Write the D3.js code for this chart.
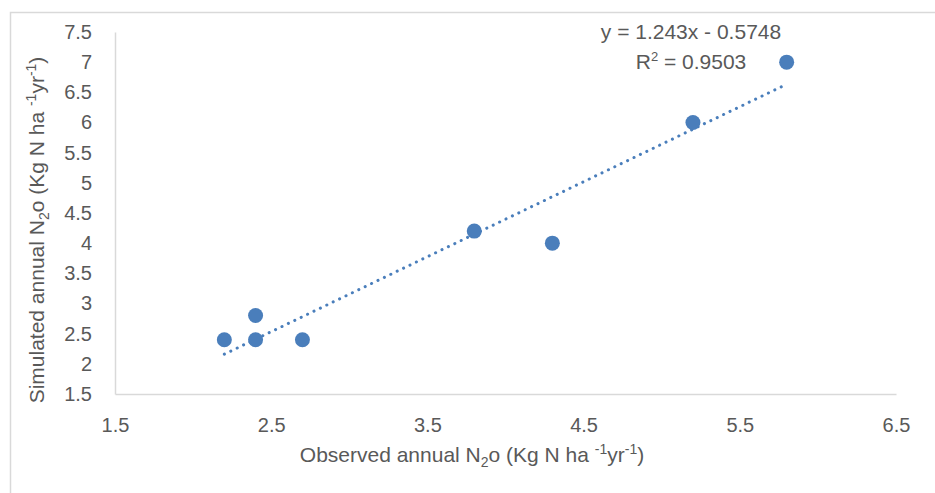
<!DOCTYPE html>
<html>
<head>
<meta charset="utf-8">
<script src="https://cdn.jsdelivr.net/npm/d3@7"></script>
<style>
  body { margin: 0; background: #fff; }
  text { font-family: "Liberation Sans", Arial, sans-serif; fill: #595959; }
</style>
</head>
<body>
<div id="chart"></div>
<script>
const observed = [2.2, 2.4, 2.4, 2.7, 3.8, 4.3, 5.2, 5.8];
const simulated = [2.4, 2.8, 2.4, 2.4, 4.2, 4.0, 6.0, 7.0];
const xTicks = [1.5, 2.5, 3.5, 4.5, 5.5, 6.5];
const yTicks = [1.5, 2, 2.5, 3, 3.5, 4, 4.5, 5, 5.5, 6, 6.5, 7, 7.5];
const slope = 1.243;
const intercept = -0.5748;
const rSquared = 0.9503;

const width = 935;
const height = 493;
const margin = { top: 32, right: 39, bottom: 99, left: 115 };

const x = d3.scaleLinear().domain([1.5, 6.5]).range([margin.left, width - margin.right]);
const y = d3.scaleLinear().domain([1.5, 7.5]).range([height - margin.bottom, margin.top]);

const svg = d3.select("#chart").append("svg").attr("width", width).attr("height", height);

// chart frame, runs off the picture on the right and bottom
svg.append("rect")
  .attr("x", 10.5).attr("y", 12.5)
  .attr("width", 1000).attr("height", 1000)
  .attr("fill", "#fff").attr("stroke", "#d9d9d9").attr("stroke-width", 1.5);

const xAxisG = svg.append("g")
  .attr("transform", `translate(0,${height - margin.bottom})`)
  .call(d3.axisBottom(x).tickValues(xTicks).tickFormat(d3.format("")).tickSize(0).tickPadding(24));

const yAxisG = svg.append("g")
  .attr("transform", `translate(${margin.left},0)`)
  .call(d3.axisLeft(y).tickValues(yTicks).tickFormat(d3.format("")).tickSize(0).tickPadding(23));

[xAxisG, yAxisG].forEach((g) => {
  g.select(".domain").attr("stroke", "#d9d9d9").attr("stroke-width", 1.5);
  g.selectAll("text").attr("fill", "#595959").style("font-size", "20px")
    .style("font-family", "'Liberation Sans', Arial, sans-serif");
});

// trendline
const xExtent = d3.extent(observed);
svg.append("line")
  .attr("x1", x(xExtent[0])).attr("y1", y(slope * xExtent[0] + intercept))
  .attr("x2", x(xExtent[1])).attr("y2", y(slope * xExtent[1] + intercept))
  .attr("stroke", "#4a7ebb").attr("stroke-width", 3)
  .attr("stroke-linecap", "round").attr("stroke-dasharray", "0.1 7");

svg.append("g")
  .selectAll("circle")
  .data(observed)
  .join("circle")
  .attr("cx", (d) => x(d))
  .attr("cy", (d, i) => y(simulated[i]))
  .attr("r", 7.5)
  .attr("fill", "#4a7ebb");

// equation label
const eq = svg.append("g").style("font-size", "21px");
eq.append("text").attr("x", 691).attr("y", 39).attr("text-anchor", "middle")
  .text(`y = ${slope}x - ${Math.abs(intercept)}`);
const r2 = eq.append("text").attr("x", 691).attr("y", 69).attr("text-anchor", "middle");
r2.append("tspan").text("R");
r2.append("tspan").attr("dy", -8).style("font-size", "13px").text("2");
r2.append("tspan").attr("dy", 8).text(` = ${rSquared}`);

function unitLabel(t, prefix) {
  t.append("tspan").text(prefix + " N");
  t.append("tspan").attr("dy", 5).style("font-size", "14px").text("2");
  t.append("tspan").attr("dy", -5).text("o (Kg N ha ");
  t.append("tspan").attr("dy", -8).style("font-size", "14px").text("-1");
  t.append("tspan").attr("dy", 8).text("yr");
  t.append("tspan").attr("dy", -8).style("font-size", "14px").text("-1");
  t.append("tspan").attr("dy", 8).text(")");
}

const xTitle = svg.append("text")
  .attr("x", 472).attr("y", 462)
  .attr("text-anchor", "middle").style("font-size", "21px");
unitLabel(xTitle, "Observed annual");

const yTitle = svg.append("text")
  .attr("transform", `translate(44,230) rotate(-90)`)
  .attr("text-anchor", "middle").style("font-size", "21px");
unitLabel(yTitle, "Simulated annual");
</script>
</body>
</html>
